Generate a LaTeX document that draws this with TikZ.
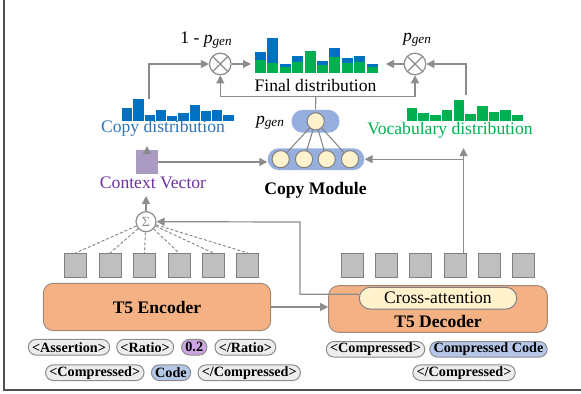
\documentclass[tikz,border=0pt]{standalone}
\usepackage{fontspec}
\setmainfont{Liberation Serif}
\usetikzlibrary{arrows.meta}
\usetikzlibrary{positioning}

\definecolor{copyblue}{HTML}{0070C0}
\definecolor{copytext}{HTML}{2E75B6}
\definecolor{vocgreen}{HTML}{00B050}
\definecolor{linegray}{HTML}{8C8C8C}
\definecolor{framegray}{HTML}{505050}
\definecolor{ctxfill}{HTML}{A99BC2}
\definecolor{ctxtext}{HTML}{7030A0}
\definecolor{coderfill}{HTML}{F4B183}
\definecolor{coderborder}{HTML}{A08878}
\definecolor{attnfill}{HTML}{FFF2CC}
\definecolor{ovalfill}{HTML}{97AFDE}
\definecolor{cellfill}{HTML}{BFBFBF}
\definecolor{cellborder}{HTML}{808080}
\definecolor{tokfill}{HTML}{EDEDED}
\definecolor{valfill}{HTML}{CBA6E3}
\definecolor{codefill}{HTML}{B4C7E7}

\tikzset{
    arr/.style={->, draw=linegray, line width=0.6pt},
    conn/.style={draw=linegray, line width=0.6pt},
    tok/.style={draw=linegray, fill=tokfill, rounded corners=3.9pt, inner xsep=1.9pt, inner ysep=0pt,
        minimum height=7.8pt, line width=0.5pt, font=\fontsize{7.1}{8}\selectfont\bfseries},
    cell/.style={draw=cellborder, fill=cellfill, minimum width=11pt, minimum height=12pt, inner sep=0pt, line width=0.5pt},
    neuron/.style={circle, draw=cellborder, fill=attnfill, minimum size=8.6pt, inner sep=0pt, line width=0.5pt},
    oval/.style={fill=ovalfill, inner sep=0pt, rounded corners=5.4pt},
    coder/.style={draw=coderborder, fill=coderfill, rounded corners=5pt, line width=0.5pt},
    mult/.style={circle, draw=linegray, fill=white, minimum size=10.8pt, inner sep=0pt, line width=0.6pt,
        path picture={\draw[linegray, line width=0.6pt]
            (path picture bounding box.north west) -- (path picture bounding box.south east)
            (path picture bounding box.north east) -- (path picture bounding box.south west);}},
}
\newcommand{\pgen}{\textit{p}\raisebox{-0.25ex}{\fontsize{6.6}{7}\selectfont\textit{gen}}}

\begin{document}
\begin{tikzpicture}[x=0.5pt, y=-0.5pt, >={Triangle[length=4pt, width=4pt]}, font=\fontsize{8.8}{10.5}\selectfont]
    \useasboundingbox (0,0) rectangle (581,394);
    % Page frame
    \draw[framegray, line width=0.8pt] (4,0) -- (4,390) -- (581,390);

    % Encoder
    \node[coder, minimum width=113.7pt, minimum height=23.7pt] (enc) at (157,307) {\textbf{T5 Encoder}};
    \foreach \x [count=\i] in {75.5,110,144.5,179,213.3,247.7}
        \node[cell] (e\i) at (\x,265.5) {};
    \node[circle, draw=linegray, fill=white, minimum size=10pt, inner sep=0pt, text=linegray, line width=0.6pt] (sum) at (146,221.7) {\fontsize{7}{7}\selectfont Σ};
    \foreach \i in {1,...,6}
        \draw[conn, line width=0.5pt, dash pattern=on 1.5pt off 1pt] (sum) -- (e\i.north);

    % Decoder
    \node[coder, minimum width=109.3pt, minimum height=23.3pt] (dec) at (438,309) {};
    \node[draw=cellborder, fill=attnfill, rounded corners=5.4pt, minimum width=78.7pt, minimum height=10.85pt,
        inner sep=0pt, line width=0.5pt] (xattn) at (438,298.2) {Cross-attention};
    \node (declbl) at (438,321) {\textbf{T5 Decoder}};
    \foreach \x [count=\i] in {352,386.3,420.7,455,489.7,523.7}
        \node[cell] (d\i) at (\x,265.3) {};

    % Context vector
    \node[fill=ctxfill, minimum width=11pt, minimum height=11.6pt, inner sep=0pt] (ctx) at (147,162) {};
    \node[text=ctxtext] (ctxlbl) at (153,183) {Context Vector};

    % Copy distribution
    \foreach \h [count=\i] in {12.3,21.7,5.7,10.7,4.7,7.3,15.7,10,10.7,5.7}
        \fill[copyblue] ({122+(\i-1)*11.25},120.7) rectangle ++(10.4,-\h);
    \node[text=copytext] (copylbl) at (163,128) {Copy distribution};
    \coordinate (copybars) at (149,99);

    % Vocabulary distribution
    \foreach \h [count=\i] in {12.7,7.3,5.3,10.7,20.7,6.7,14.7,8.7,10.7,5.3}
        \fill[vocgreen] ({406.7+(\i-1)*11.7},120.7) rectangle ++(10.6,-\h);
    \node[text=vocgreen] (voclbl) at (450,130) {Vocabulary distribution};
    \coordinate (vocbars) at (466,95);

    % Final distribution
    \foreach \g/\b [count=\i] in {13.3/7.7,10/25,6.7/3,11.7/5.7,22.3/0,8.7/3.7,16.3/9,10.7/5,11.7/5.7,6.3/3} {
        \fill[vocgreen] ({255+(\i-1)*12.4},73.3) rectangle ++(11,-\g);
        \fill[copyblue] ({255+(\i-1)*12.4},{73.3-\g}) rectangle ++(11,-\b);
    }
    \node (finlbl) at (315.5,85) {Final distribution};
    \coordinate (finL) at (251,64);
    \coordinate (finR) at (386,64);

    % Mixing
    \node[mult] (otL) at (220.3,64) {};
    \node[mult] (otR) at (415,64) {};
    \node (wcopy) at (206,40) {1 - \pgen};
    \node (wgen) at (417,40) {\pgen};

    % Copy module
    \node[oval, minimum width=23.85pt, minimum height=11.35pt] (upper) at (315.5,121.3) {};
    \node[neuron] (top) at (315.7,121.3) {};
    \node[oval, minimum width=48.3pt, minimum height=10.85pt] (lower) at (316,159.2) {};
    \foreach \x [count=\i] in {280.7,304,326.7,350}
        \node[neuron] (c\i) at (\x,159.2) {};
    \foreach \i in {1,...,4}
        \draw[cellborder, line width=0.5pt] (top) -- (c\i);
    \node (pgenlbl) at (270,123) {\pgen};
    \node (cmlbl) at (315.5,190.7) {\textbf{Copy Module}};

    % Relationships
    \draw[arr] (enc.east) -- (enc.east -| dec.west);
    \coordinate (attnbend) at (300,222);
    \draw[arr] ([yshift=2pt]xattn.west) -| (attnbend) -- (sum.east);
    \draw[arr] (sum) -- (sum |- ctxlbl.south);
    \draw[arr, shorten >=1.5pt] (ctx) -- (ctx |- copylbl.south);
    \draw[arr] (ctx.east) -- (ctx.east -| lower.west);
    \coordinate (decup) at ([xshift=-1.5pt]d4.north east);
    \draw[arr, shorten >=1.5pt] (decup) -- (decup |- voclbl.south);
    \draw[arr] (decup |- lower.east) -- (lower.east);
    \draw[arr] (copybars) |- (otL);
    \draw[arr] (vocbars) |- (otR);
    \draw[arr] (otL) -- (finL);
    \draw[arr] (otR) -- (finR);
    \coordinate (fork) at (315.7,96.7);
    \draw[conn] (upper) -- (fork);
    \draw[arr] (fork) -| (otL);
    \draw[arr] (fork) -| (otR);

    % Input tokens
    \node[tok] (t1) at (69,347.2) {<Assertion>};
    \node[tok, right=3pt of t1] (t2) {<Ratio>};
    \node[tok, fill=valfill, right=3.5pt of t2] (t3) {0.2};
    \node[tok, right=3.5pt of t3] (t4) {</Ratio>};
    \node[tok] (t5) at (94.8,372.7) {<Compressed>};
    \node[tok, fill=codefill, right=3.2pt of t5] (t6) {Code};
    \node[tok, right=3.2pt of t6] (t7) {</Compressed>};
    % Output tokens
    \node[tok] (t8) at (375.5,349.3) {<Compressed>};
    \node[tok, fill=codefill, right=2pt of t8] (t9) {Compressed Code};
    \node[tok] (t10) at (464,372.7) {</Compressed>};
\end{tikzpicture}
\end{document}
